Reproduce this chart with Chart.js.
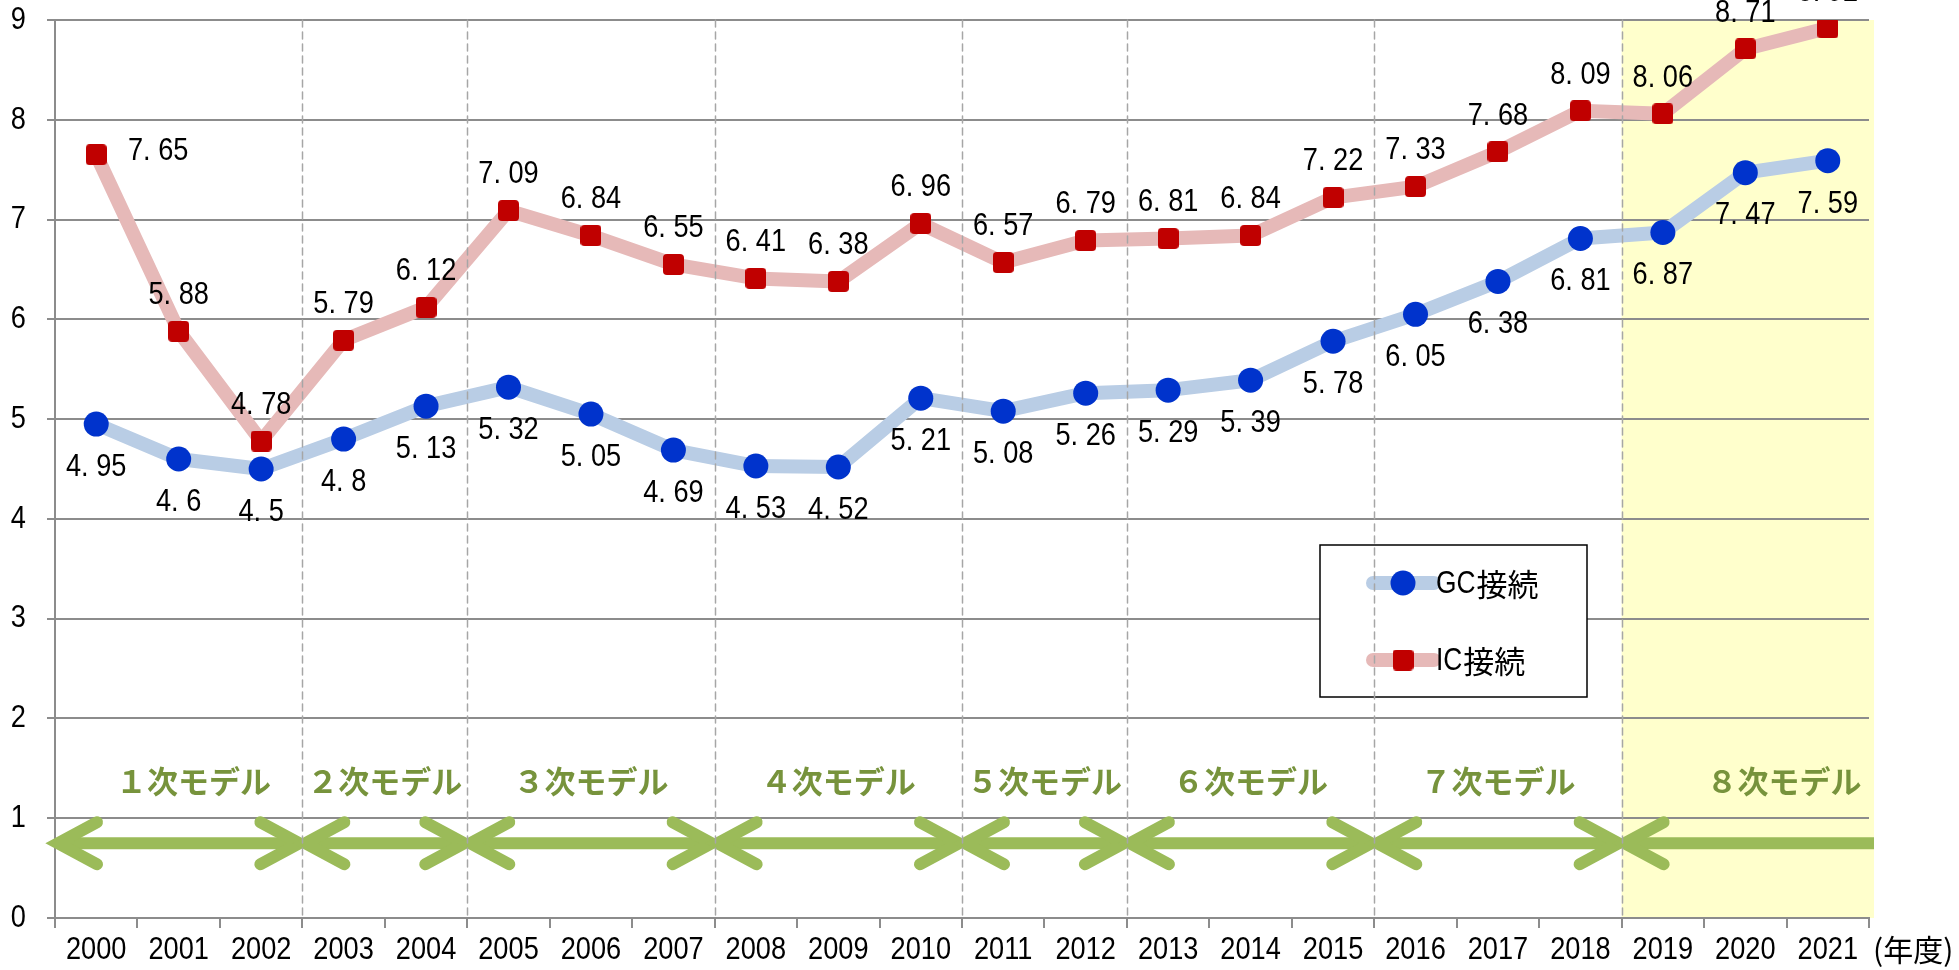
<!DOCTYPE html>
<html>
<head>
<meta charset="utf-8">
<script src="https://cdn.jsdelivr.net/npm/chart.js@4/dist/chart.umd.min.js"></script>
<style>
  body { margin: 0; background: #fff; }
  #wrap { width: 1959px; height: 970px; position: relative; }
</style>
</head>
<body>
<div id="wrap"><canvas id="chart"></canvas></div>
<script>
// data
const categories = ['2000', '2001', '2002', '2003', '2004', '2005', '2006', '2007', '2008', '2009', '2010',
                    '2011', '2012', '2013', '2014', '2015', '2016', '2017', '2018', '2019', '2020', '2021'];
const gcValues = [4.95, 4.6, 4.5, 4.8, 5.13, 5.32, 5.05, 4.69, 4.53, 4.52, 5.21,
                  5.08, 5.26, 5.29, 5.39, 5.78, 6.05, 6.38, 6.81, 6.87, 7.47, 7.59];
const icValues = [7.65, 5.88, 4.78, 5.79, 6.12, 7.09, 6.84, 6.55, 6.41, 6.38, 6.96,
                  6.57, 6.79, 6.81, 6.84, 7.22, 7.33, 7.68, 8.09, 8.06, 8.71, 8.92];
const seriesNames = ['GC接続', 'IC接続'];
const unitLabel = '(年度)';

// model periods (category index, first and last year of each)
const modelNames = ['１次モデル', '２次モデル', '３次モデル', '４次モデル', '５次モデル', '６次モデル', '７次モデル', '８次モデル'];
const modelStart = [0, 3, 5, 8, 11, 13, 16, 19];
const modelEnd = [2, 4, 7, 10, 12, 15, 18, 21];
const modelLabelPos = [1.18, 3.5, 6, 9, 11.5, 14, 17, 20.47];
const arrowLevel = 0.75;
const modelLabelLevel = 1.37;
const highlightFrom = 19;   // 2019 onwards is shaded

const LATIN = "'Liberation Sans', 'Noto Sans CJK JP', sans-serif";
const CJK = "'Noto Sans CJK JP', sans-serif";
const SQUEEZE = 0.85;
const GRID = '#8c8c8c';

function fmt(v) {
  return String(v).replace('.', '. ');
}

// red square marker with slightly rounded corners
function roundSquare(side, color) {
  const c = document.createElement('canvas');
  c.width = side;
  c.height = side;
  const g = c.getContext('2d');
  g.fillStyle = color;
  g.beginPath();
  g.roundRect(0, 0, side, side, 4);
  g.fill();
  return c;
}
const icMarker = roundSquare(21, '#c00000');

// narrow text, like the condensed gothic in the original
function narrowText(ctx, text, x, y, align, size) {
  ctx.save();
  ctx.font = size + 'px ' + LATIN;
  ctx.textAlign = align;
  ctx.textBaseline = 'middle';
  ctx.translate(x, y);
  ctx.scale(SQUEEZE, 1);
  ctx.fillText(text, 0, 0);
  ctx.restore();
}

// latin part narrow, kanji part normal
function mixedText(ctx, text, x, y, size) {
  const k = text.search(/[^\x00-\x7f]/);
  const latin = k < 0 ? text : text.slice(0, k);
  const rest = k < 0 ? '' : text.slice(k);
  ctx.save();
  ctx.textAlign = 'left';
  ctx.textBaseline = 'middle';
  ctx.font = size + 'px ' + LATIN;
  const w = ctx.measureText(latin).width * SQUEEZE;
  narrowText(ctx, latin, x, y, 'left', size);
  ctx.font = size + 'px ' + CJK;
  ctx.fillText(rest, x + w + 1, y);
  ctx.restore();
}

const overlays = {
  id: 'overlays',
  beforeDraw(chart) {
    const { ctx, chartArea: a, scales: { x } } = chart;
    // yellow shading for the latest model
    const x0 = x.getPixelForValue(highlightFrom - 0.5);
    ctx.save();
    ctx.fillStyle = '#ffffcc';
    ctx.fillRect(x0, a.top, a.right + 5 - x0, a.bottom - a.top);
    ctx.restore();
  },
  beforeDatasetsDraw(chart) {
    const { ctx, chartArea: a, scales: { x, y } } = chart;
    ctx.save();
    // model arrows
    const ay = y.getPixelForValue(arrowLevel);
    ctx.strokeStyle = '#9bbb59';
    ctx.lineJoin = 'miter';
    modelNames.forEach((name, i) => {
      const left = x.getPixelForValue(modelStart[i] - 0.5) + 3;
      const last = i === modelNames.length - 1;
      const right = last ? a.right + 5 : x.getPixelForValue(modelEnd[i] + 0.5) - 3;
      ctx.lineWidth = 12;
      ctx.lineCap = 'butt';
      ctx.beginPath();
      ctx.moveTo(left + 6, ay);
      ctx.lineTo(right - (last ? 0 : 6), ay);
      ctx.stroke();
      ctx.lineCap = 'round';
      ctx.beginPath();
      ctx.moveTo(left + 39, ay - 21);
      ctx.lineTo(left, ay);
      ctx.lineTo(left + 39, ay + 21);
      ctx.stroke();
      if (!last) {
        ctx.beginPath();
        ctx.moveTo(right - 39, ay - 21);
        ctx.lineTo(right, ay);
        ctx.lineTo(right - 39, ay + 21);
        ctx.stroke();
      }
      // label
      ctx.fillStyle = '#77933c';
      ctx.font = "bold 31px " + CJK;
      ctx.textAlign = 'center';
      ctx.textBaseline = 'middle';
      ctx.fillText(name, x.getPixelForValue(modelLabelPos[i]), y.getPixelForValue(modelLabelLevel));
    });
    ctx.restore();
  },
  afterDatasetsDraw(chart) {
    const { ctx, chartArea: a, scales: { x, y } } = chart;
    ctx.save();
    // legend box
    const bx = 1320, by = 545, bw = 267, bh = 152;
    ctx.fillStyle = '#fff';
    ctx.fillRect(bx, by, bw, bh);
    ctx.strokeStyle = '#000';
    ctx.lineWidth = 1.5;
    ctx.strokeRect(bx, by, bw, bh);
    chart.data.datasets.forEach((ds, i) => {
      const ly = by + 38 + i * 77;
      ctx.strokeStyle = ds.borderColor;
      ctx.lineWidth = 14;
      ctx.lineCap = 'round';
      ctx.beginPath();
      ctx.moveTo(1373, ly);
      ctx.lineTo(1434, ly);
      ctx.stroke();
      if (ds.pointStyle === 'circle') {
        ctx.fillStyle = ds.pointBackgroundColor;
        ctx.beginPath();
        ctx.arc(1403, ly, 12.5, 0, Math.PI * 2);
        ctx.fill();
      } else {
        ctx.drawImage(ds.pointStyle, 1403 - 10.5, ly - 10.5);
      }
      ctx.fillStyle = '#000';
      mixedText(ctx, ds.label, 1436, ly + 1, 31);
    });
    // dashed separators between models
    ctx.strokeStyle = '#a6a6a6';
    ctx.lineWidth = 1.5;
    ctx.setLineDash([7, 5]);
    modelStart.slice(1).forEach((s) => {
      const px = Math.round(x.getPixelForValue(s - 0.5)) + 0.5;
      ctx.beginPath();
      ctx.moveTo(px, a.top);
      ctx.lineTo(px, a.bottom);
      ctx.stroke();
    });
    ctx.setLineDash([]);
    // value labels
    ctx.fillStyle = '#000';
    chart.data.datasets.forEach((ds, di) => {
      const meta = chart.getDatasetMeta(di);
      meta.data.forEach((pt, j) => {
        let lx = pt.x, ly = di === 0 ? pt.y + 43 : pt.y - 36;
        if (di === 1 && j === 0) { lx = pt.x + 62; ly = pt.y - 4; }
        narrowText(ctx, fmt(ds.data[j]), lx, ly, 'center', 32);
      });
    });
    // tick labels
    y.ticks.forEach((t) => {
      narrowText(ctx, String(t.value), a.left - 29, y.getPixelForValue(t.value), 'right', 32);
    });
    categories.forEach((c, i) => {
      narrowText(ctx, c, x.getPixelForValue(i), 950, 'center', 32);
    });
    // unit label after the axis
    ctx.font = '30px ' + CJK;
    ctx.textAlign = 'left';
    ctx.textBaseline = 'middle';
    ctx.fillText(unitLabel, a.right + 4, 950);
    ctx.restore();
  }
};

new Chart(document.getElementById('chart'), {
  type: 'line',
  data: {
    labels: categories,
    datasets: [
      {
        label: seriesNames[0],
        data: gcValues,
        borderColor: '#b9cde5',
        borderWidth: 14,
        borderJoinStyle: 'round',
        borderCapStyle: 'round',
        pointStyle: 'circle',
        pointRadius: 12.5,
        pointBackgroundColor: '#0033cc',
        pointBorderWidth: 0,
        tension: 0
      },
      {
        label: seriesNames[1],
        data: icValues,
        borderColor: '#e6b9b8',
        borderWidth: 14,
        borderJoinStyle: 'round',
        borderCapStyle: 'round',
        pointStyle: icMarker,
        pointRadius: 11,
        pointBackgroundColor: '#c00000',
        pointBorderWidth: 0,
        tension: 0
      }
    ]
  },
  options: {
    responsive: true,
    maintainAspectRatio: false,
    animation: false,
    devicePixelRatio: 1,
    layout: { padding: { top: 20, right: 90, left: 0, bottom: 0 } },
    plugins: {
      legend: { display: false },
      tooltip: { enabled: false }
    },
    scales: {
      x: {
        offset: true,
        grid: { display: true, drawOnChartArea: false, offset: true, tickLength: 10, color: GRID, lineWidth: 2 },
        border: { display: true, color: GRID, width: 2 },
        ticks: { display: false, autoSkip: false },
        afterFit: (s) => { s.height = 52; }
      },
      y: {
        min: 0,
        max: 9,
        ticks: { display: false, stepSize: 1 },
        grid: { color: GRID, lineWidth: 2, tickLength: 8 },
        border: { display: true, color: GRID, width: 2 },
        afterFit: (s) => { s.width = 55; }
      }
    }
  },
  plugins: [overlays]
});
</script>
</body>
</html>
